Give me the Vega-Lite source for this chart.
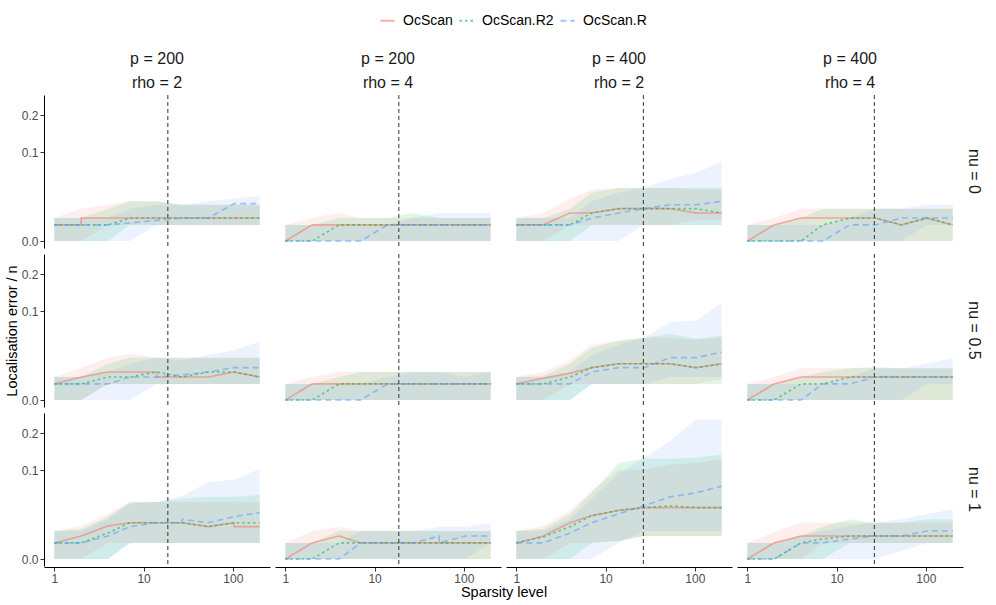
{
"$schema": "https://vega.github.io/schema/vega-lite/v6.json",
"background": "white",
"padding": {"left": 4, "top": 12, "right": 8, "bottom": 2},
"data": {"values": [
{"panel":"p = 200|rho = 2","nu":"nu = 0","threshold":18.7},
{"panel":"p = 200|rho = 4","nu":"nu = 0","threshold":18.7},
{"panel":"p = 400|rho = 2","nu":"nu = 0","threshold":26.5},
{"panel":"p = 400|rho = 4","nu":"nu = 0","threshold":26.5},
{"panel":"p = 200|rho = 2","nu":"nu = 0.5","threshold":18.7},
{"panel":"p = 200|rho = 4","nu":"nu = 0.5","threshold":18.7},
{"panel":"p = 400|rho = 2","nu":"nu = 0.5","threshold":26.5},
{"panel":"p = 400|rho = 4","nu":"nu = 0.5","threshold":26.5},
{"panel":"p = 200|rho = 2","nu":"nu = 1","threshold":18.7},
{"panel":"p = 200|rho = 4","nu":"nu = 1","threshold":18.7},
{"panel":"p = 400|rho = 2","nu":"nu = 1","threshold":26.5},
{"panel":"p = 400|rho = 4","nu":"nu = 1","threshold":26.5},

{"panel":"p = 200|rho = 2","nu":"nu = 0","method":"OcScan","sparsity":1,"error":0.0033,"lo":0,"hi":0.0067,"ord":0},
{"panel":"p = 200|rho = 2","nu":"nu = 0","method":"OcScan","sparsity":2,"error":0.0033,"lo":0,"hi":0.0133,"ord":1},
{"panel":"p = 200|rho = 2","nu":"nu = 0","method":"OcScan","sparsity":2,"error":0.0067,"lo":0,"hi":0.0133,"ord":2},
{"panel":"p = 200|rho = 2","nu":"nu = 0","method":"OcScan","sparsity":4,"error":0.0067,"lo":0.0033,"hi":0.0167,"ord":3},
{"panel":"p = 200|rho = 2","nu":"nu = 0","method":"OcScan","sparsity":7,"error":0.0067,"lo":0.0033,"hi":0.02,"ord":4},
{"panel":"p = 200|rho = 2","nu":"nu = 0","method":"OcScan","sparsity":14,"error":0.0067,"lo":0.0033,"hi":0.02,"ord":5},
{"panel":"p = 200|rho = 2","nu":"nu = 0","method":"OcScan","sparsity":27,"error":0.0067,"lo":0.0033,"hi":0.0167,"ord":6},
{"panel":"p = 200|rho = 2","nu":"nu = 0","method":"OcScan","sparsity":53,"error":0.0067,"lo":0.0033,"hi":0.0167,"ord":7},
{"panel":"p = 200|rho = 2","nu":"nu = 0","method":"OcScan","sparsity":103,"error":0.0067,"lo":0.0033,"hi":0.0167,"ord":8},
{"panel":"p = 200|rho = 2","nu":"nu = 0","method":"OcScan","sparsity":200,"error":0.0067,"lo":0.0033,"hi":0.0167,"ord":9},
{"panel":"p = 200|rho = 2","nu":"nu = 0","method":"OcScan.R2","sparsity":1,"error":0.0033,"lo":0,"hi":0.0067,"ord":0},
{"panel":"p = 200|rho = 2","nu":"nu = 0","method":"OcScan.R2","sparsity":2,"error":0.0033,"lo":0,"hi":0.0067,"ord":1},
{"panel":"p = 200|rho = 2","nu":"nu = 0","method":"OcScan.R2","sparsity":4,"error":0.0033,"lo":0,"hi":0.0133,"ord":2},
{"panel":"p = 200|rho = 2","nu":"nu = 0","method":"OcScan.R2","sparsity":7,"error":0.0067,"lo":0.0033,"hi":0.02,"ord":3},
{"panel":"p = 200|rho = 2","nu":"nu = 0","method":"OcScan.R2","sparsity":14,"error":0.0067,"lo":0.0033,"hi":0.02,"ord":4},
{"panel":"p = 200|rho = 2","nu":"nu = 0","method":"OcScan.R2","sparsity":27,"error":0.0067,"lo":0.0033,"hi":0.0167,"ord":5},
{"panel":"p = 200|rho = 2","nu":"nu = 0","method":"OcScan.R2","sparsity":53,"error":0.0067,"lo":0.0033,"hi":0.0167,"ord":6},
{"panel":"p = 200|rho = 2","nu":"nu = 0","method":"OcScan.R2","sparsity":103,"error":0.0067,"lo":0.0033,"hi":0.0167,"ord":7},
{"panel":"p = 200|rho = 2","nu":"nu = 0","method":"OcScan.R2","sparsity":200,"error":0.0067,"lo":0.0033,"hi":0.0167,"ord":8},
{"panel":"p = 200|rho = 2","nu":"nu = 0","method":"OcScan.R","sparsity":1,"error":0.0033,"lo":0,"hi":0.0067,"ord":0},
{"panel":"p = 200|rho = 2","nu":"nu = 0","method":"OcScan.R","sparsity":2,"error":0.0033,"lo":0,"hi":0.0067,"ord":1},
{"panel":"p = 200|rho = 2","nu":"nu = 0","method":"OcScan.R","sparsity":4,"error":0.0033,"lo":0,"hi":0.0067,"ord":2},
{"panel":"p = 200|rho = 2","nu":"nu = 0","method":"OcScan.R","sparsity":7,"error":0.0041,"lo":0,"hi":0.0133,"ord":3},
{"panel":"p = 200|rho = 2","nu":"nu = 0","method":"OcScan.R","sparsity":14,"error":0.0054,"lo":0.0033,"hi":0.0167,"ord":4},
{"panel":"p = 200|rho = 2","nu":"nu = 0","method":"OcScan.R","sparsity":27,"error":0.0067,"lo":0.0033,"hi":0.0167,"ord":5},
{"panel":"p = 200|rho = 2","nu":"nu = 0","method":"OcScan.R","sparsity":53,"error":0.0067,"lo":0.0033,"hi":0.02,"ord":6},
{"panel":"p = 200|rho = 2","nu":"nu = 0","method":"OcScan.R","sparsity":103,"error":0.0177,"lo":0.0033,"hi":0.0228,"ord":7},
{"panel":"p = 200|rho = 2","nu":"nu = 0","method":"OcScan.R","sparsity":200,"error":0.0177,"lo":0.0033,"hi":0.0258,"ord":8},

{"panel":"p = 200|rho = 4","nu":"nu = 0","method":"OcScan","sparsity":1,"error":0,"lo":0,"hi":0.0033,"ord":0},
{"panel":"p = 200|rho = 4","nu":"nu = 0","method":"OcScan","sparsity":2,"error":0.0033,"lo":0,"hi":0.0067,"ord":1},
{"panel":"p = 200|rho = 4","nu":"nu = 0","method":"OcScan","sparsity":4,"error":0.0033,"lo":0,"hi":0.01,"ord":2},
{"panel":"p = 200|rho = 4","nu":"nu = 0","method":"OcScan","sparsity":7,"error":0.0033,"lo":0,"hi":0.0067,"ord":3},
{"panel":"p = 200|rho = 4","nu":"nu = 0","method":"OcScan","sparsity":14,"error":0.0033,"lo":0,"hi":0.0067,"ord":4},
{"panel":"p = 200|rho = 4","nu":"nu = 0","method":"OcScan","sparsity":27,"error":0.0033,"lo":0,"hi":0.0067,"ord":5},
{"panel":"p = 200|rho = 4","nu":"nu = 0","method":"OcScan","sparsity":53,"error":0.0033,"lo":0,"hi":0.0067,"ord":6},
{"panel":"p = 200|rho = 4","nu":"nu = 0","method":"OcScan","sparsity":103,"error":0.0033,"lo":0,"hi":0.0067,"ord":7},
{"panel":"p = 200|rho = 4","nu":"nu = 0","method":"OcScan","sparsity":200,"error":0.0033,"lo":0,"hi":0.0067,"ord":8},
{"panel":"p = 200|rho = 4","nu":"nu = 0","method":"OcScan.R2","sparsity":1,"error":0,"lo":0,"hi":0.0033,"ord":0},
{"panel":"p = 200|rho = 4","nu":"nu = 0","method":"OcScan.R2","sparsity":2,"error":0,"lo":0,"hi":0.0033,"ord":1},
{"panel":"p = 200|rho = 4","nu":"nu = 0","method":"OcScan.R2","sparsity":4,"error":0.0033,"lo":0,"hi":0.0067,"ord":2},
{"panel":"p = 200|rho = 4","nu":"nu = 0","method":"OcScan.R2","sparsity":7,"error":0.0033,"lo":0,"hi":0.0067,"ord":3},
{"panel":"p = 200|rho = 4","nu":"nu = 0","method":"OcScan.R2","sparsity":14,"error":0.0033,"lo":0,"hi":0.0067,"ord":4},
{"panel":"p = 200|rho = 4","nu":"nu = 0","method":"OcScan.R2","sparsity":27,"error":0.0033,"lo":0,"hi":0.01,"ord":5},
{"panel":"p = 200|rho = 4","nu":"nu = 0","method":"OcScan.R2","sparsity":53,"error":0.0033,"lo":0,"hi":0.0067,"ord":6},
{"panel":"p = 200|rho = 4","nu":"nu = 0","method":"OcScan.R2","sparsity":103,"error":0.0033,"lo":0,"hi":0.0067,"ord":7},
{"panel":"p = 200|rho = 4","nu":"nu = 0","method":"OcScan.R2","sparsity":200,"error":0.0033,"lo":0,"hi":0.0067,"ord":8},
{"panel":"p = 200|rho = 4","nu":"nu = 0","method":"OcScan.R","sparsity":1,"error":0,"lo":0,"hi":0.0033,"ord":0},
{"panel":"p = 200|rho = 4","nu":"nu = 0","method":"OcScan.R","sparsity":2,"error":0,"lo":0,"hi":0.0033,"ord":1},
{"panel":"p = 200|rho = 4","nu":"nu = 0","method":"OcScan.R","sparsity":4,"error":0,"lo":0,"hi":0.0033,"ord":2},
{"panel":"p = 200|rho = 4","nu":"nu = 0","method":"OcScan.R","sparsity":7,"error":0,"lo":0,"hi":0.0033,"ord":3},
{"panel":"p = 200|rho = 4","nu":"nu = 0","method":"OcScan.R","sparsity":14,"error":0.0033,"lo":0,"hi":0.0033,"ord":4},
{"panel":"p = 200|rho = 4","nu":"nu = 0","method":"OcScan.R","sparsity":27,"error":0.0033,"lo":0,"hi":0.0067,"ord":5},
{"panel":"p = 200|rho = 4","nu":"nu = 0","method":"OcScan.R","sparsity":53,"error":0.0033,"lo":0,"hi":0.01,"ord":6},
{"panel":"p = 200|rho = 4","nu":"nu = 0","method":"OcScan.R","sparsity":103,"error":0.0033,"lo":0,"hi":0.01,"ord":7},
{"panel":"p = 200|rho = 4","nu":"nu = 0","method":"OcScan.R","sparsity":200,"error":0.0033,"lo":0,"hi":0.01,"ord":8},

{"panel":"p = 400|rho = 2","nu":"nu = 0","method":"OcScan","sparsity":1,"error":0.0033,"lo":0,"hi":0.0067,"ord":0},
{"panel":"p = 400|rho = 2","nu":"nu = 0","method":"OcScan","sparsity":2,"error":0.0033,"lo":0,"hi":0.01,"ord":1},
{"panel":"p = 400|rho = 2","nu":"nu = 0","method":"OcScan","sparsity":4,"error":0.01,"lo":0.0033,"hi":0.0228,"ord":2},
{"panel":"p = 400|rho = 2","nu":"nu = 0","method":"OcScan","sparsity":7,"error":0.01,"lo":0.0033,"hi":0.0335,"ord":3},
{"panel":"p = 400|rho = 2","nu":"nu = 0","method":"OcScan","sparsity":14,"error":0.0133,"lo":0.0033,"hi":0.0358,"ord":4},
{"panel":"p = 400|rho = 2","nu":"nu = 0","method":"OcScan","sparsity":27,"error":0.0133,"lo":0.0033,"hi":0.0358,"ord":5},
{"panel":"p = 400|rho = 2","nu":"nu = 0","method":"OcScan","sparsity":53,"error":0.0133,"lo":0.0033,"hi":0.0358,"ord":6},
{"panel":"p = 400|rho = 2","nu":"nu = 0","method":"OcScan","sparsity":103,"error":0.01,"lo":0.0056,"hi":0.0335,"ord":7},
{"panel":"p = 400|rho = 2","nu":"nu = 0","method":"OcScan","sparsity":200,"error":0.01,"lo":0.0056,"hi":0.0335,"ord":8},
{"panel":"p = 400|rho = 2","nu":"nu = 0","method":"OcScan.R2","sparsity":1,"error":0.0033,"lo":0,"hi":0.0067,"ord":0},
{"panel":"p = 400|rho = 2","nu":"nu = 0","method":"OcScan.R2","sparsity":2,"error":0.0033,"lo":0,"hi":0.0067,"ord":1},
{"panel":"p = 400|rho = 2","nu":"nu = 0","method":"OcScan.R2","sparsity":4,"error":0.0033,"lo":0,"hi":0.0133,"ord":2},
{"panel":"p = 400|rho = 2","nu":"nu = 0","method":"OcScan.R2","sparsity":7,"error":0.01,"lo":0.0033,"hi":0.03,"ord":3},
{"panel":"p = 400|rho = 2","nu":"nu = 0","method":"OcScan.R2","sparsity":14,"error":0.0133,"lo":0.0033,"hi":0.0358,"ord":4},
{"panel":"p = 400|rho = 2","nu":"nu = 0","method":"OcScan.R2","sparsity":27,"error":0.0133,"lo":0.0033,"hi":0.0358,"ord":5},
{"panel":"p = 400|rho = 2","nu":"nu = 0","method":"OcScan.R2","sparsity":53,"error":0.0133,"lo":0.0033,"hi":0.0358,"ord":6},
{"panel":"p = 400|rho = 2","nu":"nu = 0","method":"OcScan.R2","sparsity":103,"error":0.0133,"lo":0.0033,"hi":0.0358,"ord":7},
{"panel":"p = 400|rho = 2","nu":"nu = 0","method":"OcScan.R2","sparsity":200,"error":0.01,"lo":0.0033,"hi":0.0358,"ord":8},
{"panel":"p = 400|rho = 2","nu":"nu = 0","method":"OcScan.R","sparsity":1,"error":0.0033,"lo":0,"hi":0.0067,"ord":0},
{"panel":"p = 400|rho = 2","nu":"nu = 0","method":"OcScan.R","sparsity":2,"error":0.0033,"lo":0,"hi":0.0067,"ord":1},
{"panel":"p = 400|rho = 2","nu":"nu = 0","method":"OcScan.R","sparsity":4,"error":0.0033,"lo":0,"hi":0.0067,"ord":2},
{"panel":"p = 400|rho = 2","nu":"nu = 0","method":"OcScan.R","sparsity":7,"error":0.0067,"lo":0,"hi":0.02,"ord":3},
{"panel":"p = 400|rho = 2","nu":"nu = 0","method":"OcScan.R","sparsity":14,"error":0.01,"lo":0,"hi":0.03,"ord":4},
{"panel":"p = 400|rho = 2","nu":"nu = 0","method":"OcScan.R","sparsity":27,"error":0.0133,"lo":0.0033,"hi":0.0358,"ord":5},
{"panel":"p = 400|rho = 2","nu":"nu = 0","method":"OcScan.R","sparsity":53,"error":0.0167,"lo":0.0033,"hi":0.049,"ord":6},
{"panel":"p = 400|rho = 2","nu":"nu = 0","method":"OcScan.R","sparsity":103,"error":0.0167,"lo":0.0033,"hi":0.059,"ord":7},
{"panel":"p = 400|rho = 2","nu":"nu = 0","method":"OcScan.R","sparsity":200,"error":0.02,"lo":0.0033,"hi":0.0796,"ord":8},

{"panel":"p = 400|rho = 4","nu":"nu = 0","method":"OcScan","sparsity":1,"error":0,"lo":0,"hi":0.0033,"ord":0},
{"panel":"p = 400|rho = 4","nu":"nu = 0","method":"OcScan","sparsity":2,"error":0.0033,"lo":0,"hi":0.0067,"ord":1},
{"panel":"p = 400|rho = 4","nu":"nu = 0","method":"OcScan","sparsity":4,"error":0.0067,"lo":0,"hi":0.0133,"ord":2},
{"panel":"p = 400|rho = 4","nu":"nu = 0","method":"OcScan","sparsity":7,"error":0.0067,"lo":0,"hi":0.0133,"ord":3},
{"panel":"p = 400|rho = 4","nu":"nu = 0","method":"OcScan","sparsity":14,"error":0.0067,"lo":0,"hi":0.0133,"ord":4},
{"panel":"p = 400|rho = 4","nu":"nu = 0","method":"OcScan","sparsity":27,"error":0.0067,"lo":0,"hi":0.0133,"ord":5},
{"panel":"p = 400|rho = 4","nu":"nu = 0","method":"OcScan","sparsity":53,"error":0.0033,"lo":0,"hi":0.0133,"ord":6},
{"panel":"p = 400|rho = 4","nu":"nu = 0","method":"OcScan","sparsity":103,"error":0.0067,"lo":0,"hi":0.0133,"ord":7},
{"panel":"p = 400|rho = 4","nu":"nu = 0","method":"OcScan","sparsity":200,"error":0.0033,"lo":0,"hi":0.0133,"ord":8},
{"panel":"p = 400|rho = 4","nu":"nu = 0","method":"OcScan.R2","sparsity":1,"error":0,"lo":0,"hi":0.0033,"ord":0},
{"panel":"p = 400|rho = 4","nu":"nu = 0","method":"OcScan.R2","sparsity":2,"error":0,"lo":0,"hi":0.0033,"ord":1},
{"panel":"p = 400|rho = 4","nu":"nu = 0","method":"OcScan.R2","sparsity":4,"error":0,"lo":0,"hi":0.0067,"ord":2},
{"panel":"p = 400|rho = 4","nu":"nu = 0","method":"OcScan.R2","sparsity":7,"error":0.0033,"lo":0,"hi":0.0133,"ord":3},
{"panel":"p = 400|rho = 4","nu":"nu = 0","method":"OcScan.R2","sparsity":14,"error":0.0067,"lo":0,"hi":0.0133,"ord":4},
{"panel":"p = 400|rho = 4","nu":"nu = 0","method":"OcScan.R2","sparsity":27,"error":0.0067,"lo":0,"hi":0.0133,"ord":5},
{"panel":"p = 400|rho = 4","nu":"nu = 0","method":"OcScan.R2","sparsity":53,"error":0.0033,"lo":0,"hi":0.0133,"ord":6},
{"panel":"p = 400|rho = 4","nu":"nu = 0","method":"OcScan.R2","sparsity":103,"error":0.0067,"lo":0,"hi":0.0133,"ord":7},
{"panel":"p = 400|rho = 4","nu":"nu = 0","method":"OcScan.R2","sparsity":200,"error":0.0033,"lo":0,"hi":0.0133,"ord":8},
{"panel":"p = 400|rho = 4","nu":"nu = 0","method":"OcScan.R","sparsity":1,"error":0,"lo":0,"hi":0.0033,"ord":0},
{"panel":"p = 400|rho = 4","nu":"nu = 0","method":"OcScan.R","sparsity":2,"error":0,"lo":0,"hi":0.0033,"ord":1},
{"panel":"p = 400|rho = 4","nu":"nu = 0","method":"OcScan.R","sparsity":4,"error":0,"lo":0,"hi":0.0033,"ord":2},
{"panel":"p = 400|rho = 4","nu":"nu = 0","method":"OcScan.R","sparsity":7,"error":0,"lo":0,"hi":0.0033,"ord":3},
{"panel":"p = 400|rho = 4","nu":"nu = 0","method":"OcScan.R","sparsity":14,"error":0.0033,"lo":0,"hi":0.0067,"ord":4},
{"panel":"p = 400|rho = 4","nu":"nu = 0","method":"OcScan.R","sparsity":27,"error":0.0033,"lo":0,"hi":0.0133,"ord":5},
{"panel":"p = 400|rho = 4","nu":"nu = 0","method":"OcScan.R","sparsity":53,"error":0.0067,"lo":0,"hi":0.0133,"ord":6},
{"panel":"p = 400|rho = 4","nu":"nu = 0","method":"OcScan.R","sparsity":103,"error":0.0067,"lo":0.0033,"hi":0.0167,"ord":7},
{"panel":"p = 400|rho = 4","nu":"nu = 0","method":"OcScan.R","sparsity":200,"error":0.0067,"lo":0.0033,"hi":0.0167,"ord":8},

{"panel":"p = 200|rho = 2","nu":"nu = 0.5","method":"OcScan","sparsity":1,"error":0.0033,"lo":0,"hi":0.0067,"ord":0},
{"panel":"p = 200|rho = 2","nu":"nu = 0.5","method":"OcScan","sparsity":2,"error":0.0067,"lo":0,"hi":0.0133,"ord":1},
{"panel":"p = 200|rho = 2","nu":"nu = 0.5","method":"OcScan","sparsity":4,"error":0.01,"lo":0.0033,"hi":0.0228,"ord":2},
{"panel":"p = 200|rho = 2","nu":"nu = 0.5","method":"OcScan","sparsity":7,"error":0.01,"lo":0.0033,"hi":0.0273,"ord":3},
{"panel":"p = 200|rho = 2","nu":"nu = 0.5","method":"OcScan","sparsity":14,"error":0.01,"lo":0.0033,"hi":0.0228,"ord":4},
{"panel":"p = 200|rho = 2","nu":"nu = 0.5","method":"OcScan","sparsity":14,"error":0.0067,"lo":0.0033,"hi":0.0228,"ord":5},
{"panel":"p = 200|rho = 2","nu":"nu = 0.5","method":"OcScan","sparsity":27,"error":0.0067,"lo":0.0033,"hi":0.0228,"ord":6},
{"panel":"p = 200|rho = 2","nu":"nu = 0.5","method":"OcScan","sparsity":53,"error":0.0067,"lo":0.0033,"hi":0.0228,"ord":7},
{"panel":"p = 200|rho = 2","nu":"nu = 0.5","method":"OcScan","sparsity":103,"error":0.01,"lo":0.0033,"hi":0.0228,"ord":8},
{"panel":"p = 200|rho = 2","nu":"nu = 0.5","method":"OcScan","sparsity":200,"error":0.0067,"lo":0.0033,"hi":0.0228,"ord":9},
{"panel":"p = 200|rho = 2","nu":"nu = 0.5","method":"OcScan.R2","sparsity":1,"error":0.0033,"lo":0,"hi":0.0067,"ord":0},
{"panel":"p = 200|rho = 2","nu":"nu = 0.5","method":"OcScan.R2","sparsity":2,"error":0.0033,"lo":0,"hi":0.0067,"ord":1},
{"panel":"p = 200|rho = 2","nu":"nu = 0.5","method":"OcScan.R2","sparsity":4,"error":0.0067,"lo":0.0033,"hi":0.0167,"ord":2},
{"panel":"p = 200|rho = 2","nu":"nu = 0.5","method":"OcScan.R2","sparsity":7,"error":0.0067,"lo":0.0033,"hi":0.0228,"ord":3},
{"panel":"p = 200|rho = 2","nu":"nu = 0.5","method":"OcScan.R2","sparsity":14,"error":0.01,"lo":0.0033,"hi":0.0228,"ord":4},
{"panel":"p = 200|rho = 2","nu":"nu = 0.5","method":"OcScan.R2","sparsity":27,"error":0.0067,"lo":0.0033,"hi":0.0228,"ord":5},
{"panel":"p = 200|rho = 2","nu":"nu = 0.5","method":"OcScan.R2","sparsity":53,"error":0.01,"lo":0.0033,"hi":0.0228,"ord":6},
{"panel":"p = 200|rho = 2","nu":"nu = 0.5","method":"OcScan.R2","sparsity":103,"error":0.01,"lo":0.0033,"hi":0.0228,"ord":7},
{"panel":"p = 200|rho = 2","nu":"nu = 0.5","method":"OcScan.R2","sparsity":200,"error":0.0067,"lo":0.0033,"hi":0.0228,"ord":8},
{"panel":"p = 200|rho = 2","nu":"nu = 0.5","method":"OcScan.R","sparsity":1,"error":0.0033,"lo":0,"hi":0.0067,"ord":0},
{"panel":"p = 200|rho = 2","nu":"nu = 0.5","method":"OcScan.R","sparsity":2,"error":0.0033,"lo":0,"hi":0.0067,"ord":1},
{"panel":"p = 200|rho = 2","nu":"nu = 0.5","method":"OcScan.R","sparsity":4,"error":0.0033,"lo":0,"hi":0.01,"ord":2},
{"panel":"p = 200|rho = 2","nu":"nu = 0.5","method":"OcScan.R","sparsity":7,"error":0.0067,"lo":0,"hi":0.0167,"ord":3},
{"panel":"p = 200|rho = 2","nu":"nu = 0.5","method":"OcScan.R","sparsity":14,"error":0.0067,"lo":0.0033,"hi":0.0228,"ord":4},
{"panel":"p = 200|rho = 2","nu":"nu = 0.5","method":"OcScan.R","sparsity":27,"error":0.008,"lo":0.0033,"hi":0.02,"ord":5},
{"panel":"p = 200|rho = 2","nu":"nu = 0.5","method":"OcScan.R","sparsity":53,"error":0.01,"lo":0.0033,"hi":0.0258,"ord":6},
{"panel":"p = 200|rho = 2","nu":"nu = 0.5","method":"OcScan.R","sparsity":103,"error":0.0133,"lo":0.0033,"hi":0.0319,"ord":7},
{"panel":"p = 200|rho = 2","nu":"nu = 0.5","method":"OcScan.R","sparsity":200,"error":0.0133,"lo":0.0033,"hi":0.0429,"ord":8},

{"panel":"p = 200|rho = 4","nu":"nu = 0.5","method":"OcScan","sparsity":1,"error":0,"lo":0,"hi":0.0033,"ord":0},
{"panel":"p = 200|rho = 4","nu":"nu = 0.5","method":"OcScan","sparsity":2,"error":0.0033,"lo":0,"hi":0.0067,"ord":1},
{"panel":"p = 200|rho = 4","nu":"nu = 0.5","method":"OcScan","sparsity":4,"error":0.0033,"lo":0,"hi":0.01,"ord":2},
{"panel":"p = 200|rho = 4","nu":"nu = 0.5","method":"OcScan","sparsity":7,"error":0.0033,"lo":0,"hi":0.01,"ord":3},
{"panel":"p = 200|rho = 4","nu":"nu = 0.5","method":"OcScan","sparsity":14,"error":0.0033,"lo":0,"hi":0.01,"ord":4},
{"panel":"p = 200|rho = 4","nu":"nu = 0.5","method":"OcScan","sparsity":27,"error":0.0033,"lo":0,"hi":0.01,"ord":5},
{"panel":"p = 200|rho = 4","nu":"nu = 0.5","method":"OcScan","sparsity":53,"error":0.0033,"lo":0,"hi":0.01,"ord":6},
{"panel":"p = 200|rho = 4","nu":"nu = 0.5","method":"OcScan","sparsity":103,"error":0.0033,"lo":0,"hi":0.01,"ord":7},
{"panel":"p = 200|rho = 4","nu":"nu = 0.5","method":"OcScan","sparsity":200,"error":0.0033,"lo":0,"hi":0.01,"ord":8},
{"panel":"p = 200|rho = 4","nu":"nu = 0.5","method":"OcScan.R2","sparsity":1,"error":0,"lo":0,"hi":0.0033,"ord":0},
{"panel":"p = 200|rho = 4","nu":"nu = 0.5","method":"OcScan.R2","sparsity":2,"error":0,"lo":0,"hi":0.0033,"ord":1},
{"panel":"p = 200|rho = 4","nu":"nu = 0.5","method":"OcScan.R2","sparsity":4,"error":0.0033,"lo":0,"hi":0.0067,"ord":2},
{"panel":"p = 200|rho = 4","nu":"nu = 0.5","method":"OcScan.R2","sparsity":7,"error":0.0033,"lo":0,"hi":0.01,"ord":3},
{"panel":"p = 200|rho = 4","nu":"nu = 0.5","method":"OcScan.R2","sparsity":14,"error":0.0033,"lo":0,"hi":0.01,"ord":4},
{"panel":"p = 200|rho = 4","nu":"nu = 0.5","method":"OcScan.R2","sparsity":27,"error":0.0033,"lo":0,"hi":0.01,"ord":5},
{"panel":"p = 200|rho = 4","nu":"nu = 0.5","method":"OcScan.R2","sparsity":53,"error":0.0033,"lo":0,"hi":0.01,"ord":6},
{"panel":"p = 200|rho = 4","nu":"nu = 0.5","method":"OcScan.R2","sparsity":103,"error":0.0033,"lo":0,"hi":0.01,"ord":7},
{"panel":"p = 200|rho = 4","nu":"nu = 0.5","method":"OcScan.R2","sparsity":200,"error":0.0033,"lo":0,"hi":0.01,"ord":8},
{"panel":"p = 200|rho = 4","nu":"nu = 0.5","method":"OcScan.R","sparsity":1,"error":0,"lo":0,"hi":0.0033,"ord":0},
{"panel":"p = 200|rho = 4","nu":"nu = 0.5","method":"OcScan.R","sparsity":2,"error":0,"lo":0,"hi":0.0033,"ord":1},
{"panel":"p = 200|rho = 4","nu":"nu = 0.5","method":"OcScan.R","sparsity":4,"error":0,"lo":0,"hi":0.0033,"ord":2},
{"panel":"p = 200|rho = 4","nu":"nu = 0.5","method":"OcScan.R","sparsity":7,"error":0,"lo":0,"hi":0.0033,"ord":3},
{"panel":"p = 200|rho = 4","nu":"nu = 0.5","method":"OcScan.R","sparsity":14,"error":0.0033,"lo":0,"hi":0.0067,"ord":4},
{"panel":"p = 200|rho = 4","nu":"nu = 0.5","method":"OcScan.R","sparsity":27,"error":0.0033,"lo":0,"hi":0.01,"ord":5},
{"panel":"p = 200|rho = 4","nu":"nu = 0.5","method":"OcScan.R","sparsity":53,"error":0.0033,"lo":0,"hi":0.01,"ord":6},
{"panel":"p = 200|rho = 4","nu":"nu = 0.5","method":"OcScan.R","sparsity":103,"error":0.0033,"lo":0,"hi":0.0067,"ord":7},
{"panel":"p = 200|rho = 4","nu":"nu = 0.5","method":"OcScan.R","sparsity":200,"error":0.0033,"lo":0,"hi":0.01,"ord":8},

{"panel":"p = 400|rho = 2","nu":"nu = 0.5","method":"OcScan","sparsity":1,"error":0.0033,"lo":0,"hi":0.0067,"ord":0},
{"panel":"p = 400|rho = 2","nu":"nu = 0.5","method":"OcScan","sparsity":2,"error":0.006,"lo":0,"hi":0.01,"ord":1},
{"panel":"p = 400|rho = 2","nu":"nu = 0.5","method":"OcScan","sparsity":4,"error":0.0091,"lo":0.0033,"hi":0.02,"ord":2},
{"panel":"p = 400|rho = 2","nu":"nu = 0.5","method":"OcScan","sparsity":7,"error":0.0133,"lo":0.0033,"hi":0.0386,"ord":3},
{"panel":"p = 400|rho = 2","nu":"nu = 0.5","method":"OcScan","sparsity":14,"error":0.0167,"lo":0.0033,"hi":0.0444,"ord":4},
{"panel":"p = 400|rho = 2","nu":"nu = 0.5","method":"OcScan","sparsity":27,"error":0.0167,"lo":0.0033,"hi":0.049,"ord":5},
{"panel":"p = 400|rho = 2","nu":"nu = 0.5","method":"OcScan","sparsity":53,"error":0.0167,"lo":0.0033,"hi":0.049,"ord":6},
{"panel":"p = 400|rho = 2","nu":"nu = 0.5","method":"OcScan","sparsity":103,"error":0.0133,"lo":0.0033,"hi":0.0459,"ord":7},
{"panel":"p = 400|rho = 2","nu":"nu = 0.5","method":"OcScan","sparsity":200,"error":0.0167,"lo":0.0056,"hi":0.049,"ord":8},
{"panel":"p = 400|rho = 2","nu":"nu = 0.5","method":"OcScan.R2","sparsity":1,"error":0.0033,"lo":0,"hi":0.0067,"ord":0},
{"panel":"p = 400|rho = 2","nu":"nu = 0.5","method":"OcScan.R2","sparsity":2,"error":0.0033,"lo":0,"hi":0.0073,"ord":1},
{"panel":"p = 400|rho = 2","nu":"nu = 0.5","method":"OcScan.R2","sparsity":4,"error":0.0067,"lo":0,"hi":0.0167,"ord":2},
{"panel":"p = 400|rho = 2","nu":"nu = 0.5","method":"OcScan.R2","sparsity":7,"error":0.0133,"lo":0.0033,"hi":0.0345,"ord":3},
{"panel":"p = 400|rho = 2","nu":"nu = 0.5","method":"OcScan.R2","sparsity":14,"error":0.0167,"lo":0.0033,"hi":0.0444,"ord":4},
{"panel":"p = 400|rho = 2","nu":"nu = 0.5","method":"OcScan.R2","sparsity":27,"error":0.0167,"lo":0.0033,"hi":0.049,"ord":5},
{"panel":"p = 400|rho = 2","nu":"nu = 0.5","method":"OcScan.R2","sparsity":53,"error":0.0167,"lo":0.0033,"hi":0.0556,"ord":6},
{"panel":"p = 400|rho = 2","nu":"nu = 0.5","method":"OcScan.R2","sparsity":103,"error":0.0133,"lo":0.0033,"hi":0.0475,"ord":7},
{"panel":"p = 400|rho = 2","nu":"nu = 0.5","method":"OcScan.R2","sparsity":200,"error":0.0167,"lo":0.0033,"hi":0.0522,"ord":8},
{"panel":"p = 400|rho = 2","nu":"nu = 0.5","method":"OcScan.R","sparsity":1,"error":0.0033,"lo":0,"hi":0.0067,"ord":0},
{"panel":"p = 400|rho = 2","nu":"nu = 0.5","method":"OcScan.R","sparsity":2,"error":0.0033,"lo":0,"hi":0.0067,"ord":1},
{"panel":"p = 400|rho = 2","nu":"nu = 0.5","method":"OcScan.R","sparsity":4,"error":0.0033,"lo":0,"hi":0.01,"ord":2},
{"panel":"p = 400|rho = 2","nu":"nu = 0.5","method":"OcScan.R","sparsity":7,"error":0.01,"lo":0.0033,"hi":0.0258,"ord":3},
{"panel":"p = 400|rho = 2","nu":"nu = 0.5","method":"OcScan.R","sparsity":14,"error":0.0133,"lo":0.0033,"hi":0.0386,"ord":4},
{"panel":"p = 400|rho = 2","nu":"nu = 0.5","method":"OcScan.R","sparsity":27,"error":0.0133,"lo":0.0033,"hi":0.049,"ord":5},
{"panel":"p = 400|rho = 2","nu":"nu = 0.5","method":"OcScan.R","sparsity":53,"error":0.0228,"lo":0.0067,"hi":0.077,"ord":6},
{"panel":"p = 400|rho = 2","nu":"nu = 0.5","method":"OcScan.R","sparsity":103,"error":0.0228,"lo":0.0067,"hi":0.0796,"ord":7},
{"panel":"p = 400|rho = 2","nu":"nu = 0.5","method":"OcScan.R","sparsity":200,"error":0.029,"lo":0.0067,"hi":0.1193,"ord":8},

{"panel":"p = 400|rho = 4","nu":"nu = 0.5","method":"OcScan","sparsity":1,"error":0,"lo":0,"hi":0.0033,"ord":0},
{"panel":"p = 400|rho = 4","nu":"nu = 0.5","method":"OcScan","sparsity":2,"error":0.0033,"lo":0,"hi":0.0067,"ord":1},
{"panel":"p = 400|rho = 4","nu":"nu = 0.5","method":"OcScan","sparsity":4,"error":0.0067,"lo":0,"hi":0.0128,"ord":2},
{"panel":"p = 400|rho = 4","nu":"nu = 0.5","method":"OcScan","sparsity":7,"error":0.0067,"lo":0,"hi":0.0128,"ord":3},
{"panel":"p = 400|rho = 4","nu":"nu = 0.5","method":"OcScan","sparsity":14,"error":0.0067,"lo":0,"hi":0.0128,"ord":4},
{"panel":"p = 400|rho = 4","nu":"nu = 0.5","method":"OcScan","sparsity":27,"error":0.0067,"lo":0,"hi":0.0128,"ord":5},
{"panel":"p = 400|rho = 4","nu":"nu = 0.5","method":"OcScan","sparsity":53,"error":0.0067,"lo":0,"hi":0.0128,"ord":6},
{"panel":"p = 400|rho = 4","nu":"nu = 0.5","method":"OcScan","sparsity":103,"error":0.0067,"lo":0,"hi":0.0128,"ord":7},
{"panel":"p = 400|rho = 4","nu":"nu = 0.5","method":"OcScan","sparsity":200,"error":0.0067,"lo":0,"hi":0.0128,"ord":8},
{"panel":"p = 400|rho = 4","nu":"nu = 0.5","method":"OcScan.R2","sparsity":1,"error":0,"lo":0,"hi":0.0033,"ord":0},
{"panel":"p = 400|rho = 4","nu":"nu = 0.5","method":"OcScan.R2","sparsity":2,"error":0,"lo":0,"hi":0.0033,"ord":1},
{"panel":"p = 400|rho = 4","nu":"nu = 0.5","method":"OcScan.R2","sparsity":4,"error":0.0033,"lo":0,"hi":0.0067,"ord":2},
{"panel":"p = 400|rho = 4","nu":"nu = 0.5","method":"OcScan.R2","sparsity":7,"error":0.0033,"lo":0,"hi":0.01,"ord":3},
{"panel":"p = 400|rho = 4","nu":"nu = 0.5","method":"OcScan.R2","sparsity":14,"error":0.0067,"lo":0,"hi":0.0128,"ord":4},
{"panel":"p = 400|rho = 4","nu":"nu = 0.5","method":"OcScan.R2","sparsity":27,"error":0.0067,"lo":0,"hi":0.0139,"ord":5},
{"panel":"p = 400|rho = 4","nu":"nu = 0.5","method":"OcScan.R2","sparsity":53,"error":0.0067,"lo":0,"hi":0.0128,"ord":6},
{"panel":"p = 400|rho = 4","nu":"nu = 0.5","method":"OcScan.R2","sparsity":103,"error":0.0067,"lo":0,"hi":0.0128,"ord":7},
{"panel":"p = 400|rho = 4","nu":"nu = 0.5","method":"OcScan.R2","sparsity":200,"error":0.0067,"lo":0,"hi":0.0128,"ord":8},
{"panel":"p = 400|rho = 4","nu":"nu = 0.5","method":"OcScan.R","sparsity":1,"error":0,"lo":0,"hi":0.0033,"ord":0},
{"panel":"p = 400|rho = 4","nu":"nu = 0.5","method":"OcScan.R","sparsity":2,"error":0,"lo":0,"hi":0.0033,"ord":1},
{"panel":"p = 400|rho = 4","nu":"nu = 0.5","method":"OcScan.R","sparsity":4,"error":0,"lo":0,"hi":0.0033,"ord":2},
{"panel":"p = 400|rho = 4","nu":"nu = 0.5","method":"OcScan.R","sparsity":7,"error":0.0033,"lo":0,"hi":0.0033,"ord":3},
{"panel":"p = 400|rho = 4","nu":"nu = 0.5","method":"OcScan.R","sparsity":14,"error":0.0033,"lo":0,"hi":0.0067,"ord":4},
{"panel":"p = 400|rho = 4","nu":"nu = 0.5","method":"OcScan.R","sparsity":27,"error":0.0067,"lo":0,"hi":0.0128,"ord":5},
{"panel":"p = 400|rho = 4","nu":"nu = 0.5","method":"OcScan.R","sparsity":53,"error":0.0067,"lo":0,"hi":0.0128,"ord":6},
{"panel":"p = 400|rho = 4","nu":"nu = 0.5","method":"OcScan.R","sparsity":103,"error":0.0067,"lo":0.0033,"hi":0.0167,"ord":7},
{"panel":"p = 400|rho = 4","nu":"nu = 0.5","method":"OcScan.R","sparsity":200,"error":0.0067,"lo":0.0033,"hi":0.0225,"ord":8},

{"panel":"p = 200|rho = 2","nu":"nu = 1","method":"OcScan","sparsity":1,"error":0.0033,"lo":0,"hi":0.01,"ord":0},
{"panel":"p = 200|rho = 2","nu":"nu = 1","method":"OcScan","sparsity":2,"error":0.0067,"lo":0,"hi":0.0139,"ord":1},
{"panel":"p = 200|rho = 2","nu":"nu = 1","method":"OcScan","sparsity":4,"error":0.0139,"lo":0.0033,"hi":0.0258,"ord":2},
{"panel":"p = 200|rho = 2","nu":"nu = 1","method":"OcScan","sparsity":7,"error":0.0167,"lo":0.0033,"hi":0.0414,"ord":3},
{"panel":"p = 200|rho = 2","nu":"nu = 1","method":"OcScan","sparsity":14,"error":0.0167,"lo":0.0033,"hi":0.0414,"ord":4},
{"panel":"p = 200|rho = 2","nu":"nu = 1","method":"OcScan","sparsity":27,"error":0.0167,"lo":0.0033,"hi":0.0414,"ord":5},
{"panel":"p = 200|rho = 2","nu":"nu = 1","method":"OcScan","sparsity":53,"error":0.0133,"lo":0.0033,"hi":0.0414,"ord":6},
{"panel":"p = 200|rho = 2","nu":"nu = 1","method":"OcScan","sparsity":103,"error":0.0167,"lo":0.0033,"hi":0.0414,"ord":7},
{"panel":"p = 200|rho = 2","nu":"nu = 1","method":"OcScan","sparsity":103,"error":0.0133,"lo":0.0033,"hi":0.0414,"ord":8},
{"panel":"p = 200|rho = 2","nu":"nu = 1","method":"OcScan","sparsity":200,"error":0.0133,"lo":0.0033,"hi":0.0414,"ord":9},
{"panel":"p = 200|rho = 2","nu":"nu = 1","method":"OcScan.R2","sparsity":1,"error":0.0033,"lo":0,"hi":0.01,"ord":0},
{"panel":"p = 200|rho = 2","nu":"nu = 1","method":"OcScan.R2","sparsity":2,"error":0.0033,"lo":0,"hi":0.0115,"ord":1},
{"panel":"p = 200|rho = 2","nu":"nu = 1","method":"OcScan.R2","sparsity":4,"error":0.0086,"lo":0,"hi":0.0225,"ord":2},
{"panel":"p = 200|rho = 2","nu":"nu = 1","method":"OcScan.R2","sparsity":7,"error":0.0167,"lo":0.0033,"hi":0.0414,"ord":3},
{"panel":"p = 200|rho = 2","nu":"nu = 1","method":"OcScan.R2","sparsity":14,"error":0.0167,"lo":0.0033,"hi":0.0414,"ord":4},
{"panel":"p = 200|rho = 2","nu":"nu = 1","method":"OcScan.R2","sparsity":27,"error":0.0167,"lo":0.0033,"hi":0.0459,"ord":5},
{"panel":"p = 200|rho = 2","nu":"nu = 1","method":"OcScan.R2","sparsity":53,"error":0.0133,"lo":0.0033,"hi":0.049,"ord":6},
{"panel":"p = 200|rho = 2","nu":"nu = 1","method":"OcScan.R2","sparsity":103,"error":0.0167,"lo":0.0033,"hi":0.049,"ord":7},
{"panel":"p = 200|rho = 2","nu":"nu = 1","method":"OcScan.R2","sparsity":200,"error":0.0167,"lo":0.0033,"hi":0.0522,"ord":8},
{"panel":"p = 200|rho = 2","nu":"nu = 1","method":"OcScan.R","sparsity":1,"error":0.0033,"lo":0,"hi":0.01,"ord":0},
{"panel":"p = 200|rho = 2","nu":"nu = 1","method":"OcScan.R","sparsity":2,"error":0.0033,"lo":0,"hi":0.01,"ord":1},
{"panel":"p = 200|rho = 2","nu":"nu = 1","method":"OcScan.R","sparsity":4,"error":0.0067,"lo":0,"hi":0.02,"ord":2},
{"panel":"p = 200|rho = 2","nu":"nu = 1","method":"OcScan.R","sparsity":7,"error":0.0133,"lo":0.0033,"hi":0.0386,"ord":3},
{"panel":"p = 200|rho = 2","nu":"nu = 1","method":"OcScan.R","sparsity":14,"error":0.0167,"lo":0.0033,"hi":0.0414,"ord":4},
{"panel":"p = 200|rho = 2","nu":"nu = 1","method":"OcScan.R","sparsity":27,"error":0.0167,"lo":0.0033,"hi":0.0506,"ord":5},
{"panel":"p = 200|rho = 2","nu":"nu = 1","method":"OcScan.R","sparsity":27,"error":0.02,"lo":0.0033,"hi":0.0506,"ord":6},
{"panel":"p = 200|rho = 2","nu":"nu = 1","method":"OcScan.R","sparsity":53,"error":0.0167,"lo":0.0033,"hi":0.075,"ord":7},
{"panel":"p = 200|rho = 2","nu":"nu = 1","method":"OcScan.R","sparsity":103,"error":0.0228,"lo":0.0033,"hi":0.0796,"ord":8},
{"panel":"p = 200|rho = 2","nu":"nu = 1","method":"OcScan.R","sparsity":200,"error":0.0273,"lo":0.0033,"hi":0.1033,"ord":9},

{"panel":"p = 200|rho = 4","nu":"nu = 1","method":"OcScan","sparsity":1,"error":0,"lo":0,"hi":0.0033,"ord":0},
{"panel":"p = 200|rho = 4","nu":"nu = 1","method":"OcScan","sparsity":2,"error":0.0033,"lo":0,"hi":0.01,"ord":1},
{"panel":"p = 200|rho = 4","nu":"nu = 1","method":"OcScan","sparsity":4,"error":0.0067,"lo":0,"hi":0.0133,"ord":2},
{"panel":"p = 200|rho = 4","nu":"nu = 1","method":"OcScan","sparsity":7,"error":0.0033,"lo":0,"hi":0.01,"ord":3},
{"panel":"p = 200|rho = 4","nu":"nu = 1","method":"OcScan","sparsity":14,"error":0.0033,"lo":0,"hi":0.01,"ord":4},
{"panel":"p = 200|rho = 4","nu":"nu = 1","method":"OcScan","sparsity":27,"error":0.0033,"lo":0,"hi":0.01,"ord":5},
{"panel":"p = 200|rho = 4","nu":"nu = 1","method":"OcScan","sparsity":53,"error":0.0033,"lo":0,"hi":0.01,"ord":6},
{"panel":"p = 200|rho = 4","nu":"nu = 1","method":"OcScan","sparsity":103,"error":0.0033,"lo":0,"hi":0.01,"ord":7},
{"panel":"p = 200|rho = 4","nu":"nu = 1","method":"OcScan","sparsity":200,"error":0.0033,"lo":0,"hi":0.01,"ord":8},
{"panel":"p = 200|rho = 4","nu":"nu = 1","method":"OcScan.R2","sparsity":1,"error":0,"lo":0,"hi":0.0033,"ord":0},
{"panel":"p = 200|rho = 4","nu":"nu = 1","method":"OcScan.R2","sparsity":2,"error":0,"lo":0,"hi":0.0033,"ord":1},
{"panel":"p = 200|rho = 4","nu":"nu = 1","method":"OcScan.R2","sparsity":4,"error":0.0033,"lo":0,"hi":0.01,"ord":2},
{"panel":"p = 200|rho = 4","nu":"nu = 1","method":"OcScan.R2","sparsity":7,"error":0.0033,"lo":0,"hi":0.01,"ord":3},
{"panel":"p = 200|rho = 4","nu":"nu = 1","method":"OcScan.R2","sparsity":14,"error":0.0033,"lo":0,"hi":0.01,"ord":4},
{"panel":"p = 200|rho = 4","nu":"nu = 1","method":"OcScan.R2","sparsity":27,"error":0.0033,"lo":0,"hi":0.01,"ord":5},
{"panel":"p = 200|rho = 4","nu":"nu = 1","method":"OcScan.R2","sparsity":53,"error":0.0033,"lo":0,"hi":0.01,"ord":6},
{"panel":"p = 200|rho = 4","nu":"nu = 1","method":"OcScan.R2","sparsity":103,"error":0.0033,"lo":0,"hi":0.01,"ord":7},
{"panel":"p = 200|rho = 4","nu":"nu = 1","method":"OcScan.R2","sparsity":200,"error":0.0033,"lo":0,"hi":0.01,"ord":8},
{"panel":"p = 200|rho = 4","nu":"nu = 1","method":"OcScan.R","sparsity":1,"error":0,"lo":0,"hi":0.0033,"ord":0},
{"panel":"p = 200|rho = 4","nu":"nu = 1","method":"OcScan.R","sparsity":2,"error":0,"lo":0,"hi":0.0033,"ord":1},
{"panel":"p = 200|rho = 4","nu":"nu = 1","method":"OcScan.R","sparsity":4,"error":0,"lo":0,"hi":0.0033,"ord":2},
{"panel":"p = 200|rho = 4","nu":"nu = 1","method":"OcScan.R","sparsity":7,"error":0.0033,"lo":0,"hi":0.01,"ord":3},
{"panel":"p = 200|rho = 4","nu":"nu = 1","method":"OcScan.R","sparsity":14,"error":0.0033,"lo":0,"hi":0.01,"ord":4},
{"panel":"p = 200|rho = 4","nu":"nu = 1","method":"OcScan.R","sparsity":27,"error":0.0033,"lo":0,"hi":0.01,"ord":5},
{"panel":"p = 200|rho = 4","nu":"nu = 1","method":"OcScan.R","sparsity":53,"error":0.0067,"lo":0,"hi":0.0133,"ord":6},
{"panel":"p = 200|rho = 4","nu":"nu = 1","method":"OcScan.R","sparsity":53,"error":0.0033,"lo":0,"hi":0.0133,"ord":7},
{"panel":"p = 200|rho = 4","nu":"nu = 1","method":"OcScan.R","sparsity":103,"error":0.0067,"lo":0,"hi":0.0133,"ord":8},
{"panel":"p = 200|rho = 4","nu":"nu = 1","method":"OcScan.R","sparsity":200,"error":0.0067,"lo":0.0033,"hi":0.0163,"ord":9},

{"panel":"p = 400|rho = 2","nu":"nu = 1","method":"OcScan","sparsity":1,"error":0.0033,"lo":0,"hi":0.01,"ord":0},
{"panel":"p = 400|rho = 2","nu":"nu = 1","method":"OcScan","sparsity":2,"error":0.0067,"lo":0,"hi":0.0139,"ord":1},
{"panel":"p = 400|rho = 2","nu":"nu = 1","method":"OcScan","sparsity":4,"error":0.0167,"lo":0.0033,"hi":0.03,"ord":2},
{"panel":"p = 400|rho = 2","nu":"nu = 1","method":"OcScan","sparsity":7,"error":0.0239,"lo":0.0033,"hi":0.059,"ord":3},
{"panel":"p = 400|rho = 2","nu":"nu = 1","method":"OcScan","sparsity":14,"error":0.03,"lo":0.0041,"hi":0.101,"ord":4},
{"panel":"p = 400|rho = 2","nu":"nu = 1","method":"OcScan","sparsity":27,"error":0.0335,"lo":0.0067,"hi":0.101,"ord":5},
{"panel":"p = 400|rho = 2","nu":"nu = 1","method":"OcScan","sparsity":53,"error":0.0335,"lo":0.0067,"hi":0.1127,"ord":6},
{"panel":"p = 400|rho = 2","nu":"nu = 1","method":"OcScan","sparsity":103,"error":0.0335,"lo":0.0067,"hi":0.1176,"ord":7},
{"panel":"p = 400|rho = 2","nu":"nu = 1","method":"OcScan","sparsity":200,"error":0.0335,"lo":0.0067,"hi":0.125,"ord":8},
{"panel":"p = 400|rho = 2","nu":"nu = 1","method":"OcScan.R2","sparsity":1,"error":0.0033,"lo":0,"hi":0.01,"ord":0},
{"panel":"p = 400|rho = 2","nu":"nu = 1","method":"OcScan.R2","sparsity":2,"error":0.0062,"lo":0,"hi":0.0115,"ord":1},
{"panel":"p = 400|rho = 2","nu":"nu = 1","method":"OcScan.R2","sparsity":4,"error":0.0133,"lo":0,"hi":0.0258,"ord":2},
{"panel":"p = 400|rho = 2","nu":"nu = 1","method":"OcScan.R2","sparsity":7,"error":0.0239,"lo":0.0033,"hi":0.0556,"ord":3},
{"panel":"p = 400|rho = 2","nu":"nu = 1","method":"OcScan.R2","sparsity":14,"error":0.03,"lo":0.0041,"hi":0.1168,"ord":4},
{"panel":"p = 400|rho = 2","nu":"nu = 1","method":"OcScan.R2","sparsity":27,"error":0.0335,"lo":0.0067,"hi":0.1276,"ord":5},
{"panel":"p = 400|rho = 2","nu":"nu = 1","method":"OcScan.R2","sparsity":53,"error":0.0358,"lo":0.0067,"hi":0.1276,"ord":6},
{"panel":"p = 400|rho = 2","nu":"nu = 1","method":"OcScan.R2","sparsity":103,"error":0.0335,"lo":0.0067,"hi":0.13,"ord":7},
{"panel":"p = 400|rho = 2","nu":"nu = 1","method":"OcScan.R2","sparsity":200,"error":0.0335,"lo":0.0067,"hi":0.138,"ord":8},
{"panel":"p = 400|rho = 2","nu":"nu = 1","method":"OcScan.R","sparsity":1,"error":0.0033,"lo":0,"hi":0.01,"ord":0},
{"panel":"p = 400|rho = 2","nu":"nu = 1","method":"OcScan.R","sparsity":2,"error":0.0033,"lo":0,"hi":0.01,"ord":1},
{"panel":"p = 400|rho = 2","nu":"nu = 1","method":"OcScan.R","sparsity":4,"error":0.0086,"lo":0,"hi":0.02,"ord":2},
{"panel":"p = 400|rho = 2","nu":"nu = 1","method":"OcScan.R","sparsity":7,"error":0.0167,"lo":0,"hi":0.0459,"ord":3},
{"panel":"p = 400|rho = 2","nu":"nu = 1","method":"OcScan.R","sparsity":14,"error":0.0258,"lo":0.0033,"hi":0.0922,"ord":4},
{"panel":"p = 400|rho = 2","nu":"nu = 1","method":"OcScan.R","sparsity":27,"error":0.0362,"lo":0.01,"hi":0.13,"ord":5},
{"panel":"p = 400|rho = 2","nu":"nu = 1","method":"OcScan.R","sparsity":53,"error":0.049,"lo":0.01,"hi":0.1776,"ord":6},
{"panel":"p = 400|rho = 2","nu":"nu = 1","method":"OcScan.R","sparsity":103,"error":0.0556,"lo":0.01,"hi":0.2465,"ord":7},
{"panel":"p = 400|rho = 2","nu":"nu = 1","method":"OcScan.R","sparsity":200,"error":0.0674,"lo":0.01,"hi":0.2465,"ord":8},

{"panel":"p = 400|rho = 4","nu":"nu = 1","method":"OcScan","sparsity":1,"error":0,"lo":0,"hi":0.0033,"ord":0},
{"panel":"p = 400|rho = 4","nu":"nu = 1","method":"OcScan","sparsity":2,"error":0.0033,"lo":0,"hi":0.0093,"ord":1},
{"panel":"p = 400|rho = 4","nu":"nu = 1","method":"OcScan","sparsity":4,"error":0.0067,"lo":0,"hi":0.0167,"ord":2},
{"panel":"p = 400|rho = 4","nu":"nu = 1","method":"OcScan","sparsity":7,"error":0.0067,"lo":0.0033,"hi":0.0167,"ord":3},
{"panel":"p = 400|rho = 4","nu":"nu = 1","method":"OcScan","sparsity":14,"error":0.0067,"lo":0.0033,"hi":0.0167,"ord":4},
{"panel":"p = 400|rho = 4","nu":"nu = 1","method":"OcScan","sparsity":27,"error":0.0067,"lo":0.0033,"hi":0.0167,"ord":5},
{"panel":"p = 400|rho = 4","nu":"nu = 1","method":"OcScan","sparsity":53,"error":0.0067,"lo":0.0033,"hi":0.0167,"ord":6},
{"panel":"p = 400|rho = 4","nu":"nu = 1","method":"OcScan","sparsity":103,"error":0.0067,"lo":0.0033,"hi":0.0167,"ord":7},
{"panel":"p = 400|rho = 4","nu":"nu = 1","method":"OcScan","sparsity":200,"error":0.0067,"lo":0.0033,"hi":0.0167,"ord":8},
{"panel":"p = 400|rho = 4","nu":"nu = 1","method":"OcScan.R2","sparsity":1,"error":0,"lo":0,"hi":0.0033,"ord":0},
{"panel":"p = 400|rho = 4","nu":"nu = 1","method":"OcScan.R2","sparsity":2,"error":0,"lo":0,"hi":0.0033,"ord":1},
{"panel":"p = 400|rho = 4","nu":"nu = 1","method":"OcScan.R2","sparsity":4,"error":0.0033,"lo":0,"hi":0.0067,"ord":2},
{"panel":"p = 400|rho = 4","nu":"nu = 1","method":"OcScan.R2","sparsity":7,"error":0.0051,"lo":0,"hi":0.0133,"ord":3},
{"panel":"p = 400|rho = 4","nu":"nu = 1","method":"OcScan.R2","sparsity":14,"error":0.0067,"lo":0.0033,"hi":0.02,"ord":4},
{"panel":"p = 400|rho = 4","nu":"nu = 1","method":"OcScan.R2","sparsity":27,"error":0.0067,"lo":0.0033,"hi":0.0167,"ord":5},
{"panel":"p = 400|rho = 4","nu":"nu = 1","method":"OcScan.R2","sparsity":53,"error":0.0067,"lo":0.0033,"hi":0.0167,"ord":6},
{"panel":"p = 400|rho = 4","nu":"nu = 1","method":"OcScan.R2","sparsity":103,"error":0.0067,"lo":0.0033,"hi":0.02,"ord":7},
{"panel":"p = 400|rho = 4","nu":"nu = 1","method":"OcScan.R2","sparsity":200,"error":0.0067,"lo":0.0033,"hi":0.02,"ord":8},
{"panel":"p = 400|rho = 4","nu":"nu = 1","method":"OcScan.R","sparsity":1,"error":0,"lo":0,"hi":0.0033,"ord":0},
{"panel":"p = 400|rho = 4","nu":"nu = 1","method":"OcScan.R","sparsity":2,"error":0,"lo":0,"hi":0.0033,"ord":1},
{"panel":"p = 400|rho = 4","nu":"nu = 1","method":"OcScan.R","sparsity":4,"error":0.0033,"lo":0,"hi":0.0067,"ord":2},
{"panel":"p = 400|rho = 4","nu":"nu = 1","method":"OcScan.R","sparsity":7,"error":0.0033,"lo":0,"hi":0.01,"ord":3},
{"panel":"p = 400|rho = 4","nu":"nu = 1","method":"OcScan.R","sparsity":14,"error":0.0051,"lo":0,"hi":0.0139,"ord":4},
{"panel":"p = 400|rho = 4","nu":"nu = 1","method":"OcScan.R","sparsity":27,"error":0.0067,"lo":0,"hi":0.0167,"ord":5},
{"panel":"p = 400|rho = 4","nu":"nu = 1","method":"OcScan.R","sparsity":53,"error":0.0067,"lo":0.0008,"hi":0.02,"ord":6},
{"panel":"p = 400|rho = 4","nu":"nu = 1","method":"OcScan.R","sparsity":103,"error":0.01,"lo":0.0033,"hi":0.0258,"ord":7},
{"panel":"p = 400|rho = 4","nu":"nu = 1","method":"OcScan.R","sparsity":200,"error":0.01,"lo":0.0033,"hi":0.0315,"ord":8}
]},
"facet": {
  "row": {"field": "nu", "type": "nominal", "header": {"title": "Localisation error / n", "titleOrient": "left", "titleAngle": 270, "titleFontSize": 14.5, "titleFontWeight": "normal", "titleFont": "Liberation Sans", "titleColor": "#000000", "titlePadding": -23, "labelOrient": "right", "labelAngle": 90, "labelFontSize": 16, "labelFont": "Liberation Sans", "labelColor": "#1A1A1A", "labelPadding": 3}},
  "column": {"field": "panel", "type": "nominal", "header": {"title": "Sparsity level", "titleOrient": "bottom", "titleFontSize": 14.5, "titleFontWeight": "normal", "titleFont": "Liberation Sans", "titleColor": "#000000", "titlePadding": -8, "labelOrient": "top", "labelExpr": "split(datum.value, '|')", "labelFontSize": 16, "labelLineHeight": 24, "labelFont": "Liberation Sans", "labelColor": "#1A1A1A", "labelPadding": 3}}
},
"spacing": {"row": 4, "column": 5},
"spec": {
  "width": 226, "height": 153,
  "layer": [
    {
      "transform": [{"filter": "isValid(datum.method)"}],
      "mark": {"type": "area", "fillOpacity": 0.12},
      "encoding": {
        "x": {"field": "sparsity", "type": "quantitative", "scale": {"type": "log", "domain": [0.767, 260.7], "nice": false}, "axis": {"values": [1, 10, 100], "format": "d", "title": null}},
        "y": {"field": "lo", "type": "quantitative", "scale": {"type": "sqrt", "domain": [-0.000615, 0.2704], "nice": false, "zero": false}, "axis": {"values": [0, 0.1, 0.2], "format": ".1f", "title": null}},
        "y2": {"field": "hi"},
        "fill": {"field": "method", "type": "nominal", "scale": {"domain": ["OcScan", "OcScan.R2", "OcScan.R"], "range": ["#F8766D", "#00BA38", "#619CFF"]}, "legend": {"title": null, "orient": "none", "direction": "horizontal", "legendX": 335, "legendY": -83}}
      }
    },
    {
      "transform": [{"filter": "isValid(datum.method)"}],
      "mark": {"type": "line", "strokeWidth": 1.6, "opacity": 0.6},
      "encoding": {
        "x": {"field": "sparsity", "type": "quantitative"},
        "y": {"field": "error", "type": "quantitative"},
        "color": {"field": "method", "type": "nominal", "scale": {"domain": ["OcScan", "OcScan.R2", "OcScan.R"], "range": ["#F8766D", "#00BA38", "#619CFF"]}, "legend": {"title": null, "orient": "none", "direction": "horizontal", "legendX": 335, "legendY": -83}},
        "strokeDash": {"field": "method", "type": "nominal", "scale": {"domain": ["OcScan", "OcScan.R2", "OcScan.R"], "range": [[1, 0], [2.5, 3], [6, 4]]}, "legend": {"title": null, "orient": "none", "direction": "horizontal", "legendX": 335, "legendY": -83}},
        "order": {"field": "ord", "type": "quantitative"}
      }
    },
    {
      "transform": [{"filter": "isValid(datum.threshold)"}],
      "mark": {"type": "rule", "strokeDash": [4, 3], "color": "#333333", "strokeWidth": 1},
      "encoding": {"x": {"field": "threshold", "type": "quantitative"}}
    }
  ]
},
"config": {
  "font": "Liberation Sans",
  "view": {"stroke": null},
  "axis": {"grid": false, "domainColor": "#000000", "domainWidth": 1, "tickColor": "#333333", "tickSize": 4, "labelColor": "#4D4D4D", "labelFontSize": 12, "labelFont": "Liberation Sans", "labelPadding": 2},
  "legend": {"labelFontSize": 14, "labelFont": "Liberation Sans", "labelColor": "#000000", "symbolType": "stroke", "symbolStrokeWidth": 2, "symbolOpacity": 0.6, "symbolSize": 200, "columnPadding": 2, "labelOffset": 7}
}
}
